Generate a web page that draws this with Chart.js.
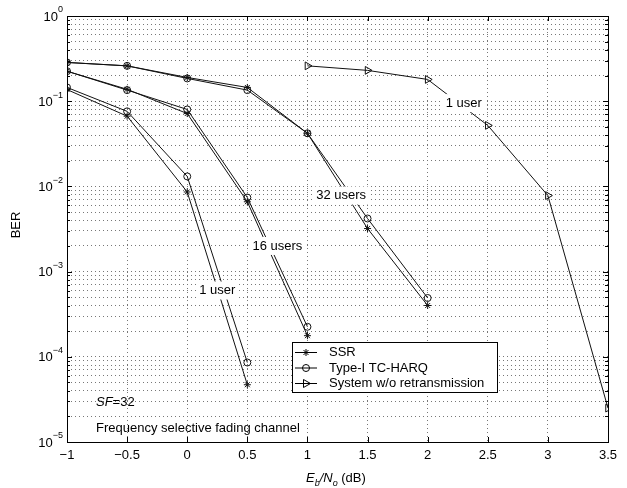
<!DOCTYPE html>
<html>
<head>
<meta charset="utf-8">
<script src="https://cdn.jsdelivr.net/npm/chart.js@4.4.1/dist/chart.umd.min.js"></script>
<style>
  body { margin: 0; background: #fff; }
  #wrap { width: 627px; height: 488px; }
</style>
</head>
<body>
<div id="wrap"><canvas id="chart" width="627" height="488"></canvas></div>
<script>
// Eb/No (dB) points for each group of curves
const ebno32 = [-1, -0.5, 0, 0.5, 1, 1.5, 2];
const ebno16 = [-1, -0.5, 0, 0.5, 1];
const ebno1 = [-1, -0.5, 0, 0.5];
const ebnoNoRetx = [1, 1.5, 2, 2.5, 3, 3.5];

// BER values
const ssr32 = [0.285, 0.26, 0.19, 0.145, 0.042, 0.0032, 0.0004];
const harq32 = [0.285, 0.26, 0.185, 0.135, 0.042, 0.0042, 0.00049];
const ssr16 = [0.225, 0.138, 0.0716, 0.0066, 0.000177];
const harq16 = [0.225, 0.135, 0.080, 0.0074, 0.000225];
const ssr1 = [0.137, 0.0667, 0.0086, 0.000047];
const harq1 = [0.145, 0.076, 0.0131, 0.0000857];
const noRetx1 = [0.26, 0.23, 0.18, 0.052, 0.0078, 0.000025];

const xTicks = [-1, -0.5, 0, 0.5, 1, 1.5, 2, 2.5, 3, 3.5];
const xTickLabels = ['\u22121', '\u22120.5', '0', '0.5', '1', '1.5', '2', '2.5', '3', '3.5'];
const yDecades = [-5, -4, -3, -2, -1, 0];

const legendNames = ['SSR', 'Type-I TC-HARQ', 'System w/o retransmission'];

// in-plot labels, in data coordinates
const notes = [
  { text: '1 user', x: 2.3, y: 0.095 },
  { text: '32 users', x: 1.28, y: 0.0078 },
  { text: '16 users', x: 0.75, y: 0.0020 },
  { text: '1 user', x: 0.25, y: 0.0006 }
];

const FONT = '"Liberation Sans", Arial, Helvetica, sans-serif';

function pts(xs, ys) {
  return xs.map((v, i) => ({ x: v, y: ys[i] }));
}

function series(label, xs, ys, style) {
  const s = {
    label: label,
    data: pts(xs, ys),
    borderColor: '#111',
    borderWidth: 1,
    pointBorderColor: '#111',
    pointBackgroundColor: 'rgba(0,0,0,0)',
    pointBorderWidth: 1,
    tension: 0,
    fill: false
  };
  if (style === 'star') {
    s.pointStyle = 'star';
    s.pointRadius = 3.5;
  } else if (style === 'circle') {
    s.pointStyle = 'circle';
    s.pointRadius = 3.5;
  } else {
    s.pointStyle = 'triangle';
    s.pointRotation = 90;
    s.pointRadius = 4.5;
  }
  return s;
}

function drawMarker(ctx, style, x, y) {
  ctx.beginPath();
  if (style === 'star') {
    const r = 3.5;
    for (let k = 0; k < 4; k++) {
      const a = k * Math.PI / 4;
      ctx.moveTo(x - r * Math.cos(a), y - r * Math.sin(a));
      ctx.lineTo(x + r * Math.cos(a), y + r * Math.sin(a));
    }
  } else if (style === 'circle') {
    ctx.arc(x, y, 3.5, 0, Math.PI * 2);
  } else {
    ctx.moveTo(x + 4.5, y);
    ctx.lineTo(x - 2.5, y - 4);
    ctx.lineTo(x - 2.5, y + 4);
    ctx.closePath();
  }
  ctx.stroke();
}

const decor = {
  id: 'decor',
  afterDraw(chart) {
    const { ctx, chartArea: a, scales: { x, y } } = chart;
    ctx.save();
    ctx.strokeStyle = '#000';
    ctx.fillStyle = '#000';
    ctx.lineWidth = 1;

    // frame
    ctx.strokeRect(a.left + 0.5, a.top + 0.5, a.right - a.left, a.bottom - a.top);

    // inward tick marks
    ctx.beginPath();
    xTicks.forEach(v => {
      const px = Math.round(x.getPixelForValue(v)) + 0.5;
      ctx.moveTo(px, a.bottom); ctx.lineTo(px, a.bottom - 5);
      ctx.moveTo(px, a.top); ctx.lineTo(px, a.top + 5);
    });
    yDecades.forEach(d => {
      for (let m = 1; m <= 9; m++) {
        const v = m * Math.pow(10, d);
        if (v > 1) continue;
        const py = Math.round(y.getPixelForValue(v)) + 0.5;
        const len = m === 1 ? 5 : 3;
        ctx.moveTo(a.left, py); ctx.lineTo(a.left + len, py);
        ctx.moveTo(a.right, py); ctx.lineTo(a.right - len, py);
      }
    });
    ctx.stroke();

    // x tick labels
    ctx.font = '13px ' + FONT;
    ctx.textAlign = 'center';
    ctx.textBaseline = 'middle';
    xTicks.forEach((v, i) => {
      ctx.fillText(xTickLabels[i], x.getPixelForValue(v), a.bottom + 13);
    });

    // y tick labels as 10^n
    yDecades.forEach(d => {
      const py = y.getPixelForValue(Math.pow(10, d));
      const ex = d === 0 ? '0' : '\u2212' + (-d);
      ctx.font = '9px ' + FONT;
      const ew = ctx.measureText(ex).width;
      ctx.textAlign = 'left';
      ctx.textBaseline = 'middle';
      const right = a.left - 4;
      ctx.fillText(ex, right - ew, py - 6);
      ctx.font = '13px ' + FONT;
      ctx.textAlign = 'right';
      ctx.fillText('10', right - ew, py + 1);
    });

    // axis titles
    ctx.save();
    ctx.translate(16, 225);
    ctx.rotate(-Math.PI / 2);
    ctx.font = '13px ' + FONT;
    ctx.textAlign = 'center';
    ctx.textBaseline = 'middle';
    ctx.fillText('BER', 0, 0);
    ctx.restore();

    ctx.textAlign = 'left';
    ctx.textBaseline = 'alphabetic';
    let cx = 306;
    const by = 482;
    const parts = [
      ['italic 13px ', 'E', 0], ['italic 9px ', 'b', 4],
      ['italic 13px ', '/N', 0], ['italic 9px ', 'o', 4],
      ['13px ', ' (dB)', 0]
    ];
    parts.forEach(p => {
      ctx.font = p[0] + FONT;
      ctx.fillText(p[1], cx, by + p[2]);
      cx += ctx.measureText(p[1]).width;
    });

    // in-plot labels with white boxes
    ctx.font = '13px ' + FONT;
    ctx.textAlign = 'center';
    ctx.textBaseline = 'middle';
    notes.forEach(n => {
      const px = x.getPixelForValue(n.x);
      const py = y.getPixelForValue(n.y);
      const w = ctx.measureText(n.text).width;
      ctx.fillStyle = '#fff';
      ctx.fillRect(px - w / 2 - 3, py - 9, w + 6, 18);
      ctx.fillStyle = '#000';
      ctx.fillText(n.text, px, py);
    });

    // SF and channel text
    ctx.textAlign = 'left';
    let sx = 96;
    ctx.font = 'italic 13px ' + FONT;
    ctx.fillText('SF', sx, 402);
    sx += ctx.measureText('SF').width;
    ctx.font = '13px ' + FONT;
    ctx.fillText('=32', sx, 402);
    ctx.fillText('Frequency selective fading channel', 96, 428);

    // legend
    const lx = 292, ly = 342, lw = 205, lh = 50;
    ctx.fillStyle = '#fff';
    ctx.fillRect(lx, ly, lw, lh);
    ctx.strokeStyle = '#000';
    ctx.strokeRect(lx + 0.5, ly + 0.5, lw, lh);
    const styles = ['star', 'circle', 'triangle'];
    ctx.fillStyle = '#000';
    ctx.font = '13px ' + FONT;
    legendNames.forEach((name, i) => {
      const ry = ly + 10.5 + i * 15.5;
      ctx.beginPath();
      ctx.moveTo(lx + 3, ry);
      ctx.lineTo(lx + 25, ry);
      ctx.stroke();
      drawMarker(ctx, styles[i], lx + 14, ry);
      ctx.fillText(name, lx + 37, ry);
    });

    ctx.restore();
  }
};

new Chart(document.getElementById('chart'), {
  type: 'line',
  data: {
    datasets: [
      series('SSR', ebno32, ssr32, 'star'),
      series('Type-I TC-HARQ', ebno32, harq32, 'circle'),
      series('SSR', ebno16, ssr16, 'star'),
      series('Type-I TC-HARQ', ebno16, harq16, 'circle'),
      series('SSR', ebno1, ssr1, 'star'),
      series('Type-I TC-HARQ', ebno1, harq1, 'circle'),
      series('System w/o retransmission', ebnoNoRetx, noRetx1, 'triangle')
    ]
  },
  options: {
    responsive: false,
    animation: false,
    layout: { padding: { left: 67, right: 19, top: 16, bottom: 46 } },
    plugins: { legend: { display: false }, tooltip: { enabled: false } },
    scales: {
      x: {
        type: 'linear',
        min: -1,
        max: 3.5,
        afterBuildTicks: s => { s.ticks = xTicks.map(v => ({ value: v })); },
        ticks: { display: false },
        grid: { drawTicks: false, color: '#777', lineWidth: 1 },
        border: { display: false, dash: [1, 3] }
      },
      y: {
        type: 'logarithmic',
        min: 1e-5,
        max: 1,
        afterBuildTicks: s => {
          const t = [];
          yDecades.forEach(d => {
            for (let m = 1; m <= 9; m++) {
              const v = m * Math.pow(10, d);
              if (v <= 1) t.push({ value: v });
            }
          });
          s.ticks = t;
        },
        ticks: { display: false },
        grid: { drawTicks: false, color: '#777', lineWidth: 1 },
        border: { display: false, dash: [1, 3] }
      }
    }
  },
  plugins: [decor]
});
</script>
</body>
</html>
